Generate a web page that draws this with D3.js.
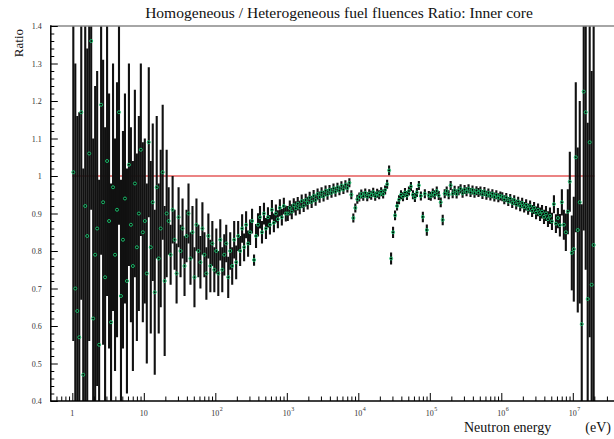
<!DOCTYPE html>
<html lang="en">
<head>
  <meta charset="UTF-8" />
  <script src="https://d3js.org/d3.v7.min.js"></script>
  <style>
    body { margin: 0; background: #fff; }
    text { font-family: "Liberation Serif", "Times New Roman", serif; }
  </style>
</head>
<body onload="init()">
  <div id="scene"></div>

  <script>
    // equal-lethargy bins, 36 per energy decade, starting at 1 eV
    const binsPerDecade = 36;

    // ratio and error per bin, one pair of arrays per decade
    const ratio1eV = [1.01,0.70,0.64,0.57,1.17,0.47,0.92,0.84,1.06,1.36,0.62,0.79,0.86,0.55,1.19,0.93,0.73,1.04,
                      0.88,0.61,0.97,0.79,0.91,1.17,0.68,0.83,0.94,0.72,1.03,0.87,0.76,0.98,0.81,0.90,1.07,0.85];
    const err1eV   = [0.45,0.60,0.52,0.60,0.50,0.55,0.55,0.50,0.50,0.45,0.48,0.45,0.42,0.44,0.40,0.38,0.40,0.36,
                      0.34,0.37,0.33,0.31,0.34,0.30,0.31,0.29,0.28,0.30,0.27,0.26,0.28,0.25,0.25,0.26,0.23,0.24];
    const ratio10eV = [0.88,0.74,1.09,0.81,0.93,0.69,0.97,0.78,0.86,1.01,0.72,0.90,
                       0.88,0.79,0.91,0.83,0.74,0.89,0.80,0.86,0.76,0.84,0.90,0.78,0.85,0.73,0.87,0.80,0.77,0.86,0.79,0.74,0.84,0.76,0.82,0.75];
    const err10eV   = [0.22,0.24,0.20,0.23,0.21,0.22,0.19,0.20,0.21,0.18,0.20,0.17,
                       0.09,0.08,0.09,0.08,0.08,0.08,0.07,0.08,0.08,0.07,0.08,0.07,0.07,0.08,0.07,0.07,0.07,0.07,0.06,0.07,0.06,0.07,0.06,0.06];
    const ratio100eV = [0.80,0.74,0.83,0.75,0.79,0.82,0.73,0.80,0.76,0.83,0.77,
                        0.84,0.80,0.86,0.81,0.87,0.82,0.85,0.88,0.776,0.84,0.87,0.89,0.85,0.90,0.86,0.89,0.87,0.91,0.875,0.90,0.885,0.915,0.89,0.92,0.90];
    const err100eV   = [0.06,0.06,0.055,0.06,0.055,0.05,0.055,0.05,0.05,0.05,0.045,
                        0.04,0.04,0.038,0.037,0.036,0.035,0.034,0.033,0.015,0.032,0.031,0.03,0.03,0.029,0.028,0.027,0.026,0.026,0.025,0.024,0.024,0.023,0.022,0.022,0.021];
    const ratio1keV = [0.90,0.915,0.905,0.922,0.914,0.926,0.916,0.933,0.921,0.936,0.928,0.942,0.931,0.947,0.936,0.952,0.944,0.956,
                       0.946,0.961,0.951,0.963,0.955,0.967,0.958,0.97,0.961,0.974,0.964,0.977,0.968,0.982,0.95,0.888,0.915,0.938];
    const err1keV   = [0.02,0.02,0.02,0.019,0.019,0.018,0.018,0.018,0.017,0.017,0.017,0.016,0.016,0.016,0.015,0.015,0.015,0.014,
                       0.014,0.014,0.014,0.013,0.013,0.013,0.013,0.012,0.012,0.012,0.012,0.012,0.012,0.012,0.012,0.012,0.012,0.012];
    const ratio10keV = [0.944,0.952,0.946,0.955,0.945,0.953,0.949,0.957,0.946,0.954,0.95,0.958,0.952,0.963,0.978,1.015,0.78,0.85,
                        0.895,0.92,0.937,0.95,0.945,0.956,0.948,0.96,0.972,0.95,0.943,0.956,0.975,0.947,0.891,0.953,0.856,0.948];
    const err10keV   = [0.012,0.012,0.012,0.012,0.012,0.012,0.012,0.012,0.012,0.012,0.012,0.012,0.012,0.012,0.012,0.013,0.016,0.015,
                        0.013,0.012,0.012,0.012,0.012,0.012,0.012,0.012,0.012,0.012,0.012,0.012,0.012,0.012,0.014,0.012,0.015,0.012];
    const ratio100keV = [0.946,0.955,0.95,0.96,0.948,0.93,0.883,0.953,0.96,0.95,0.975,0.953,0.962,0.952,0.961,0.966,0.954,0.964,
                         0.958,0.966,0.956,0.963,0.954,0.961,0.956,0.96,0.951,0.959,0.949,0.955,0.947,0.953,0.944,0.95,0.942,0.947];
    const err100keV   = [0.012,0.012,0.012,0.012,0.012,0.013,0.014,0.012,0.012,0.012,0.012,0.012,0.012,0.012,0.012,0.012,0.012,0.012,
                         0.012,0.012,0.012,0.012,0.012,0.012,0.012,0.012,0.012,0.012,0.012,0.012,0.012,0.012,0.012,0.012,0.012,0.012];
    const ratio1MeV = [0.945,0.937,0.943,0.932,0.94,0.928,0.936,0.924,0.932,0.92,0.928,0.917,0.923,0.912,0.92,0.907,0.915,0.902,
                       0.91,0.898,0.905,0.891,0.9,0.885,0.894,0.879,0.925,0.873,0.888,0.869,0.93,0.87,0.85,0.905,0.985,0.795];
    const err1MeV   = [0.012,0.012,0.012,0.012,0.012,0.013,0.013,0.013,0.013,0.014,0.014,0.014,0.015,0.015,0.015,0.016,0.016,0.017,
                       0.017,0.018,0.018,0.019,0.02,0.021,0.022,0.023,0.024,0.025,0.027,0.03,0.035,0.04,0.05,0.06,0.08,0.10];
    const ratio10MeV = [0.805,1.05,0.856,0.93,0.605,1.225,1.17,0.672,1.09,0.71,0.816];
    const err10MeV   = [0.14,0.2,0.22,0.27,0.32,0.37,0.42,0.47,0.52,0.57,0.62];

    const yTicks = [0.4, 0.5, 0.6, 0.7, 0.8, 0.9, 1.0, 1.1, 1.2, 1.3, 1.4];
    const xDecades = [0, 1, 2, 3, 4, 5, 6, 7];
    const refLevel = 1.0;
    const energyRange = [1, 2e7];

    const titleText = "Homogeneous / Heterogeneous fuel fluences Ratio: Inner core";
    const serif = "Liberation Serif, Times New Roman, serif";

    function init() {
      const decades = [
        [ratio1eV, err1eV], [ratio10eV, err10eV], [ratio100eV, err100eV], [ratio1keV, err1keV],
        [ratio10keV, err10keV], [ratio100keV, err100keV], [ratio1MeV, err1MeV], [ratio10MeV, err10MeV]
      ];
      const data = [];
      decades.forEach(([vals, errs], d) => {
        vals.forEach((r, i) => {
          data.push({
            lo: Math.pow(10, d + i / binsPerDecade),
            hi: Math.pow(10, d + (i + 1) / binsPerDecade),
            c: Math.pow(10, d + (i + 0.5) / binsPerDecade),
            r: r, e: errs[i]
          });
        });
      });

      const W = 614, H = 439;
      const svg = d3.select("#scene").append("svg").attr("width", W).attr("height", H);

      const left = 50.8, top = 26, bottom = 401, rightEdge = 644.3;
      const x = d3.scaleLog().domain([0.5, 1e8]).range([left, rightEdge]);
      const y = d3.scaleLinear().domain([0.4, 1.4]).range([bottom, top]);

      svg.append("clipPath").attr("id", "plot")
        .append("rect").attr("x", left).attr("y", top).attr("width", W - left).attr("height", bottom - top);

      const g = svg.append("g").attr("clip-path", "url(#plot)");

      // reference line at 1
      g.append("line")
        .attr("x1", x(energyRange[0])).attr("x2", x(energyRange[1]))
        .attr("y1", y(refLevel)).attr("y2", y(refLevel))
        .attr("stroke", "#e55a5a").attr("stroke-width", 1.6);

      // error bars
      g.selectAll("line.ev").data(data).enter().append("line")
        .attr("class", "ev")
        .attr("x1", d => x(d.c)).attr("x2", d => x(d.c))
        .attr("y1", d => y(d.r - d.e)).attr("y2", d => y(d.r + d.e))
        .attr("stroke", "#111").attr("stroke-width", 2.1);
      g.selectAll("line.eh").data(data).enter().append("line")
        .attr("class", "eh")
        .attr("x1", d => x(d.lo)).attr("x2", d => x(d.hi))
        .attr("y1", d => y(d.r)).attr("y2", d => y(d.r))
        .attr("stroke", "#000").attr("stroke-width", 1);

      // markers
      g.selectAll("circle").data(data).enter().append("circle")
        .attr("cx", d => x(d.c)).attr("cy", d => y(d.r)).attr("r", 1.5)
        .attr("fill", "none").attr("stroke", "#18b868").attr("stroke-width", 1);

      // frame
      svg.append("line").attr("x1", left).attr("x2", W).attr("y1", top).attr("y2", top)
        .attr("stroke", "#888").attr("stroke-width", 1.5);
      svg.append("line").attr("x1", left).attr("x2", left).attr("y1", top - 0.7).attr("y2", bottom + 0.7)
        .attr("stroke", "#000").attr("stroke-width", 1.5);
      svg.append("line").attr("x1", left).attr("x2", W).attr("y1", bottom).attr("y2", bottom)
        .attr("stroke", "#000").attr("stroke-width", 1.5);

      // y axis: major + minor ticks inside the frame
      const yMinor = d3.range(0.42, 1.4, 0.02).filter(v => Math.abs(v * 10 - Math.round(v * 10)) > 1e-6);
      svg.append("g").attr("transform", `translate(${left},0)`)
        .call(d3.axisLeft(y).tickValues(yMinor).tickSize(-3.5).tickFormat(""))
        .call(a => a.select(".domain").remove());
      svg.append("g").attr("transform", `translate(${left},0)`)
        .call(d3.axisLeft(y).tickValues(yTicks).tickSize(-7).tickPadding(9)
          .tickFormat(d => String(+d.toFixed(1))))
        .attr("font-family", serif)
        .call(a => a.select(".domain").remove())
        .call(a => a.selectAll("text").attr("font-size", 8).attr("fill", "#333"));

      // x axis: log ticks inside the frame
      const xMinor = [];
      for (let d = -1; d <= 7; d++) for (let k = 2; k <= 9; k++) {
        const v = k * Math.pow(10, d);
        if (v > 0.5 && v < 1e8) xMinor.push(v);
      }
      svg.append("g").attr("transform", `translate(0,${bottom})`)
        .call(d3.axisBottom(x).tickValues(xMinor).tickSize(-4.5).tickFormat(""))
        .call(a => a.select(".domain").remove());
      svg.append("g").attr("transform", `translate(0,${bottom})`)
        .call(d3.axisBottom(x).tickValues(xDecades.map(d => Math.pow(10, d))).tickSize(-8).tickFormat(""))
        .call(a => a.select(".domain").remove());

      xDecades.forEach(d => {
        const px = x(Math.pow(10, d));
        const base = d < 2 ? String(Math.pow(10, d)) : "10";
        svg.append("text").attr("x", px).attr("y", 415.5).attr("text-anchor", "middle")
          .attr("font-family", serif).attr("font-size", 8).attr("fill", "#333").text(base);
        if (d >= 2) {
          svg.append("text").attr("x", px + 4.5).attr("y", 411).attr("font-size", 6)
            .attr("font-family", serif).attr("fill", "#333").text(String(d));
        }
      });

      // titles
      const title = svg.append("text").attr("x", 339).attr("y", 17.5).attr("text-anchor", "middle")
        .attr("font-family", serif).attr("font-size", 14).attr("fill", "#111").text(titleText);
      const tw = title.node().getComputedTextLength();
      title.attr("font-size", 14 * 388 / tw);

      svg.append("text").attr("transform", "translate(22.5,29) rotate(-90)")
        .attr("font-family", serif).attr("text-anchor", "end").attr("font-size", 13).attr("fill", "#111").text("Ratio");

      svg.append("text").attr("x", 464).attr("y", 432).attr("font-size", 14)
        .attr("font-family", serif).attr("fill", "#111").text("Neutron energy");
      svg.append("text").attr("x", 611).attr("y", 432).attr("text-anchor", "end").attr("font-size", 14)
        .attr("font-family", serif).attr("fill", "#111").text("(eV)");
    }
  </script>
</body>
</html>
